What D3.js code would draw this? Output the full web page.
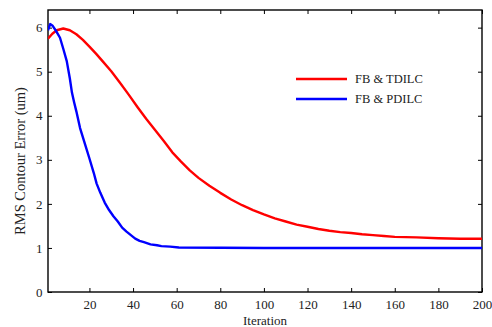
<!DOCTYPE html>
<html lang="en">
<head>
<meta charset="utf-8">
<title>RMS Contour Error vs Iteration</title>
<script src="https://cdn.jsdelivr.net/npm/d3@7"></script>
<style>
    body { margin: 0; background: #fff; }
</style>
</head>
<body>
<div id="chart"></div>
<script>
    // values
    let tdilcIter = [1, 3, 5, 8, 11, 14, 17, 20, 23, 26, 30, 34, 38, 42, 46, 50, 54, 58, 62, 66, 70, 75, 80,
        85, 90, 95, 100, 105, 110, 115, 120, 125, 130, 135, 140, 145, 150, 155, 160, 170, 180, 190, 200];
    let tdilcErr = [5.75, 5.86, 5.94, 5.98, 5.94, 5.85, 5.72, 5.57, 5.41, 5.24, 5.01, 4.75, 4.48, 4.2, 3.93,
        3.68, 3.43, 3.17, 2.96, 2.76, 2.59, 2.41, 2.25, 2.1, 1.97, 1.86, 1.76, 1.67, 1.6, 1.53, 1.48, 1.43,
        1.39, 1.36, 1.34, 1.31, 1.29, 1.27, 1.25, 1.24, 1.22, 1.21, 1.21];

    let pdilcIter = [1, 2, 3, 5, 6.5, 8, 9.6, 11, 12, 13, 14, 15.7, 18, 20, 22, 23.3, 25, 27, 29, 31, 33, 35,
        37, 39, 41, 43, 45, 48, 51, 53, 57, 61, 100, 150, 200];
    let pdilcErr = [5.94, 6.08, 6.05, 5.9, 5.77, 5.52, 5.24, 4.85, 4.52, 4.3, 4.1, 3.72, 3.35, 3.03, 2.7,
        2.46, 2.25, 2.03, 1.86, 1.72, 1.6, 1.46, 1.37, 1.29, 1.21, 1.16, 1.13, 1.08, 1.06, 1.04, 1.03, 1.01,
        1.0, 1.0, 1.0];

    let xTicks = [20, 40, 60, 80, 100, 120, 140, 160, 180, 200];
    let yTicks = [0, 1, 2, 3, 4, 5, 6];

    let seriesNames = ["FB & TDILC", "FB & PDILC"];
    let seriesColors = ["#ff0000", "#0000ff"];

    var serif = "'Liberation Serif', 'Times New Roman', 'DejaVu Serif', serif";

    // canvas
    var W = 492, H = 327;
    var margin = {top: 10, right: 10, bottom: 35, left: 48},
        width = W - margin.left - margin.right,
        height = H - margin.top - margin.bottom;

    var svg = d3.select("#chart").append("svg")
        .attr("width", W)
        .attr("height", H)
        .attr("font-family", serif);

    var g = svg.append("g")
        .attr("transform", "translate(" + margin.left + "," + margin.top + ")");

    var x = d3.scaleLinear().domain([1, 200]).range([0, width]);
    var y = d3.scaleLinear().domain([0, 6.4]).range([height, 0]);

    // axes, ticks point inward on all four sides
    function styleAxis(sel) {
        sel.attr("font-family", serif).attr("font-size", 13);
        sel.select(".domain").remove();
        sel.selectAll("line").attr("stroke", "#000").attr("stroke-width", 1);
        sel.selectAll("text").attr("fill", "#222");
    }

    g.append("g")
        .attr("transform", "translate(0," + height + ")")
        .call(d3.axisBottom(x).tickValues(xTicks).tickSizeInner(-4).tickSizeOuter(0).tickPadding(7.5))
        .call(styleAxis);

    g.append("g")
        .call(d3.axisTop(x).tickValues(xTicks).tickSizeInner(-4).tickSizeOuter(0).tickFormat(""))
        .call(styleAxis);

    g.append("g")
        .call(d3.axisLeft(y).tickValues(yTicks).tickSizeInner(-4).tickSizeOuter(0).tickPadding(5.5)
            .tickFormat(d3.format("d")))
        .call(styleAxis);

    g.append("g")
        .attr("transform", "translate(" + width + ",0)")
        .call(d3.axisRight(y).tickValues(yTicks).tickSizeInner(-4).tickSizeOuter(0).tickFormat(""))
        .call(styleAxis);

    // frame
    g.append("rect")
        .attr("width", width)
        .attr("height", height)
        .attr("fill", "none")
        .attr("stroke", "#000")
        .attr("stroke-width", 1.4);

    // curves
    var line = d3.line()
        .x(function (d) { return x(d[0]); })
        .y(function (d) { return y(d[1]); });

    var series = [
        d3.zip(tdilcIter, tdilcErr),
        d3.zip(pdilcIter, pdilcErr)
    ];

    g.append("defs").append("clipPath").attr("id", "plotClip")
        .append("rect").attr("width", width).attr("height", height);

    series.forEach(function (pts, i) {
        g.append("path")
            .datum(pts)
            .attr("clip-path", "url(#plotClip)")
            .attr("fill", "none")
            .attr("stroke", seriesColors[i])
            .attr("stroke-width", 2.4)
            .attr("stroke-linejoin", "round")
            .attr("d", line);
    });

    // legend
    var legend = g.append("g").attr("transform", "translate(248,69)");
    seriesNames.forEach(function (name, i) {
        var row = legend.append("g").attr("transform", "translate(0," + (i * 20) + ")");
        row.append("line")
            .attr("x1", 0).attr("x2", 51)
            .attr("stroke", seriesColors[i])
            .attr("stroke-width", 2.4);
        row.append("text")
            .attr("x", 59)
            .attr("y", 4)
            .attr("font-size", 12.5)
            .attr("fill", "#222")
            .text(name);
    });

    // axis titles
    svg.append("text")
        .attr("x", margin.left + width / 2)
        .attr("y", 325)
        .attr("text-anchor", "middle")
        .attr("font-size", 13)
        .attr("fill", "#222")
        .text("Iteration");

    svg.append("text")
        .attr("transform", "translate(25,161) rotate(-90)")
        .attr("text-anchor", "middle")
        .attr("font-size", 14.5)
        .attr("fill", "#222")
        .text("RMS Contour Error (um)");
</script>
</body>
</html>
